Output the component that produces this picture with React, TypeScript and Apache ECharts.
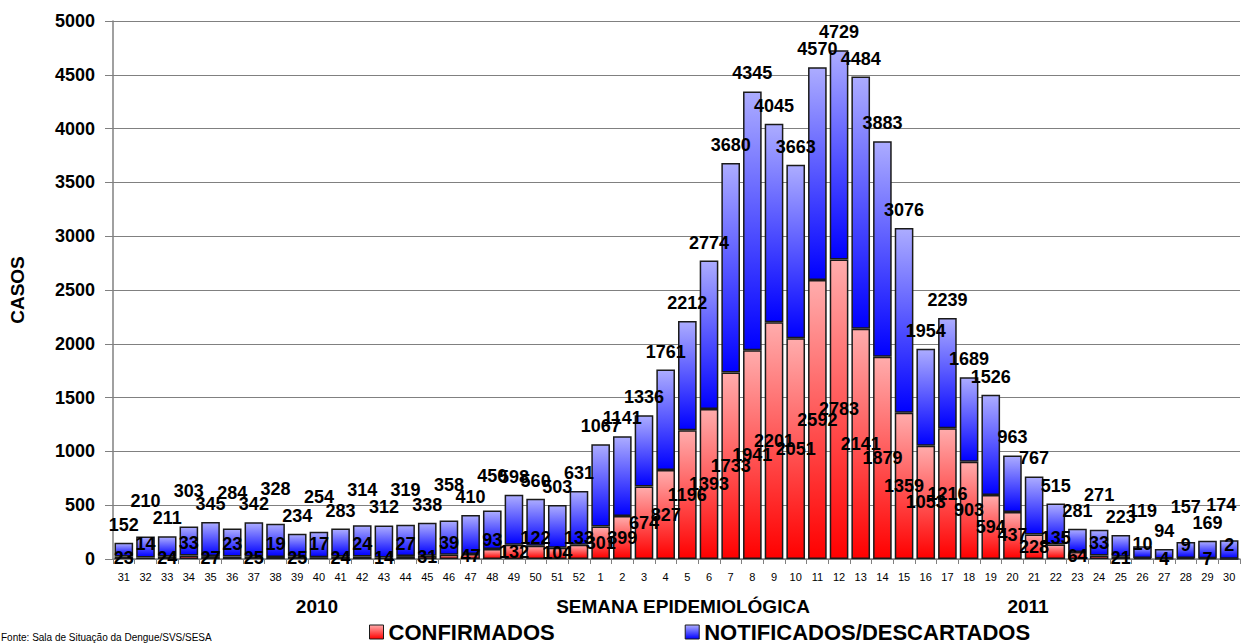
import React, { useEffect, useRef } from "react";
import * as echarts from "echarts";

const weeks = [
  "31", "32", "33", "34", "35", "36", "37", "38", "39", "40", "41", "42", "43",
  "44", "45", "46", "47", "48", "49", "50", "51", "52",
  "1", "2", "3", "4", "5", "6", "7", "8", "9", "10", "11", "12", "13", "14",
  "15", "16", "17", "18", "19", "20", "21", "22", "23", "24", "25", "26", "27",
  "28", "29", "30",
];

const totals = [
  152, 210, 211, 303, 345, 284, 342, 328, 234, 254, 283, 314, 312, 319, 338,
  358, 410, 450, 598, 560, 503, 631,
  1067, 1141, 1336, 1761, 2212, 2774, 3680, 4345, 4045, 3663, 4570, 4729,
  4484, 3883, 3076, 1954, 2239, 1689, 1526, 963, 767, 515, 281, 271, 223, 119,
  94, 157, 169, 174,
];

const confirmed = [
  23, 14, 24, 33, 27, 23, 25, 19, 25, 17, 24, 24, 14, 27, 31, 39, 47, 93, 132,
  122, 104, 133,
  301, 399, 674, 827, 1196, 1393, 1733, 1941, 2201, 2051, 2592, 2783, 2141,
  1879, 1359, 1053, 1216, 903, 594, 437, 228, 135, 64, 33, 21, 10, 4, 9, 7, 2,
];

const seriesNames = ["CONFIRMADOS", "NOTIFICADOS/DESCARTADOS"];
const yTickValues = { min: 0, max: 5000, interval: 500 };
const yAxisTitle = "CASOS";
const xAxisTitle = "SEMANA EPIDEMIOLÓGICA";
const yearLabels = ["2010", "2011"];
const sourceNote = "Fonte: Sala de Situação da Dengue/SVS/SESA";

export default function App() {
  const ref = useRef<HTMLDivElement>(null);

  useEffect(() => {
    if (!ref.current) return;
    const chart = echarts.init(ref.current, undefined, { renderer: "svg" });
    const font = "'Liberation Sans', Arial, sans-serif";

    const redGrad = new echarts.graphic.LinearGradient(0, 0, 0, 1, [
      { offset: 0, color: "#ffacac" },
      { offset: 1, color: "#ff0000" },
    ]);
    const blueGrad = new echarts.graphic.LinearGradient(0, 0, 0, 1, [
      { offset: 0, color: "#acacff" },
      { offset: 1, color: "#0000ff" },
    ]);

    const last = totals.length - 1;
    const redData = confirmed.map((v, i) => ({
      value: v,
      label: { offset: [0, v < 200 && i % 2 === 1 ? -14 : 0] },
    }));
    const blueData = totals.map((t, i) => ({
      value: t - confirmed[i],
      label: { offset: [i === last ? -8 : 0, t < 500 && i % 2 === 1 ? -17 : 0] },
    }));

    const labelStyle = {
      show: true,
      color: "#000",
      fontSize: 18,
      fontWeight: "bold" as const,
      fontFamily: font,
    };

    chart.setOption({
      animation: false,
      backgroundColor: "#ffffff",
      textStyle: { fontFamily: font },
      grid: { left: 106, right: 2, top: 21, bottom: 84, containLabel: false },
      xAxis: {
        type: "category",
        data: weeks,
        axisLine: { lineStyle: { color: "#808080", width: 1.5 } },
        axisTick: { show: true, length: 5, lineStyle: { color: "#808080" } },
        axisLabel: { interval: 0, fontSize: 11, color: "#000", margin: 12, fontFamily: font },
      },
      yAxis: {
        type: "value",
        min: yTickValues.min,
        max: yTickValues.max,
        interval: yTickValues.interval,
        name: yAxisTitle,
        nameLocation: "middle",
        nameRotate: 90,
        nameGap: 86,
        nameTextStyle: { fontSize: 19, fontWeight: "bold", color: "#000", fontFamily: font },
        axisLine: { show: true, lineStyle: { color: "#808080", width: 1.5 } },
        axisTick: { show: true, length: 8, lineStyle: { color: "#808080" } },
        axisLabel: {
          fontSize: 18,
          fontWeight: "bold",
          color: "#000",
          margin: 18,
          fontFamily: font,
          formatter: (v: number) => String(v),
        },
        splitLine: { show: true, lineStyle: { color: "#808080", width: 1 } },
      },
      legend: {
        data: seriesNames,
        left: 364,
        top: 616,
        icon: "rect",
        itemWidth: 14,
        itemHeight: 14,
        itemGap: 130,
        itemStyle: { borderColor: "#1a1a1a", borderWidth: 1 },
        textStyle: { fontSize: 22, fontWeight: "bold", color: "#000", fontFamily: font },
      },
      series: [
        {
          name: seriesNames[0],
          type: "bar",
          stack: "total",
          barWidth: "86%",
          data: redData,
          itemStyle: { color: redGrad, borderColor: "#1a1a1a", borderWidth: 1.5 },
          label: { ...labelStyle, position: "inside" },
          z: 2,
        },
        {
          name: seriesNames[1],
          type: "bar",
          stack: "total",
          barWidth: "86%",
          data: blueData,
          itemStyle: { color: blueGrad, borderColor: "#1a1a1a", borderWidth: 1.5 },
          label: {
            ...labelStyle,
            position: "top",
            distance: 9,
            formatter: (p: any) => String(totals[p.dataIndex]),
          },
          z: 2,
        },
      ],
      graphic: [
        {
          type: "text",
          x: 317,
          y: 606,
          style: { text: yearLabels[0], fill: "#000", font: `bold 19px ${font}`, align: "center", verticalAlign: "middle" },
        },
        {
          type: "text",
          x: 683,
          y: 606,
          style: { text: xAxisTitle, fill: "#000", font: `bold 19px ${font}`, align: "center", verticalAlign: "middle" },
        },
        {
          type: "text",
          x: 1028,
          y: 606,
          style: { text: yearLabels[1], fill: "#000", font: `bold 19px ${font}`, align: "center", verticalAlign: "middle" },
        },
        {
          type: "text",
          x: 1,
          y: 637,
          style: { text: sourceNote, fill: "#000", font: `10px ${font}`, align: "left", verticalAlign: "middle" },
        },
      ],
    });

    return () => chart.dispose();
  }, []);

  return (
    <div
      ref={ref}
      style={{ position: "absolute", left: 0, top: 0, width: 1242, height: 643 }}
    />
  );
}
